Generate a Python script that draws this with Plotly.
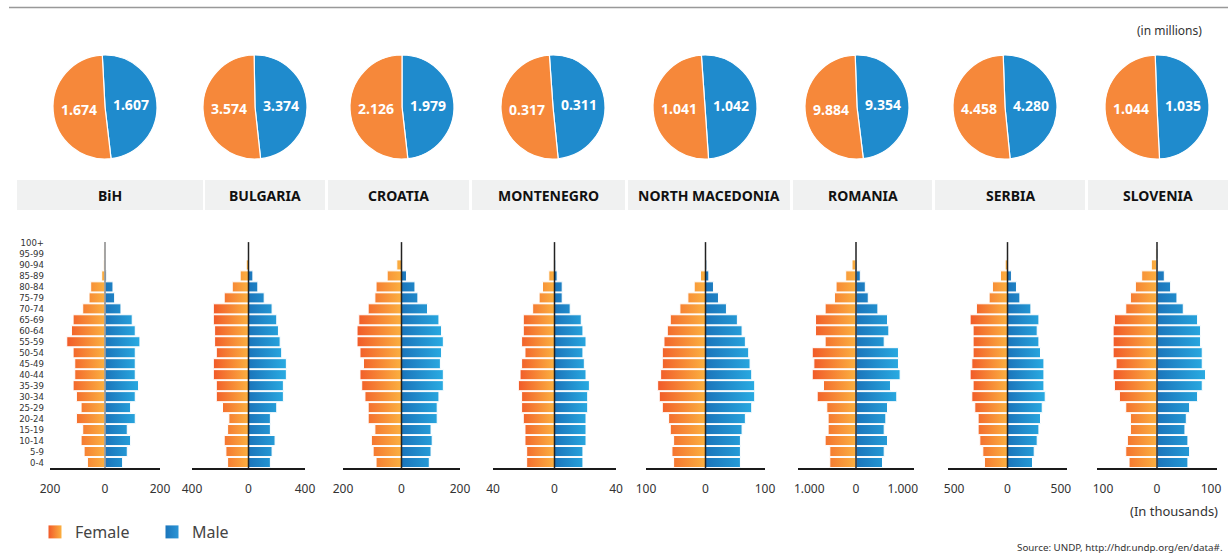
import plotly.graph_objects as go

W, H = 1228, 553

countries = ["BiH", "BULGARIA", "CROATIA", "MONTENEGRO", "NORTH MACEDONIA",
             "ROMANIA", "SERBIA", "SLOVENIA"]
age_groups = ["0-4", "5-9", "10-14", "15-19", "20-24", "25-29", "30-34", "35-39",
              "40-44", "45-49", "50-54", "55-59", "60-64", "65-69", "70-74",
              "75-79", "80-84", "85-89", "90-94", "95-99", "100+"]

# Total population, millions
female_total = [1.674, 3.574, 2.126, 0.317, 1.041, 9.884, 4.458, 1.044]
male_total = [1.607, 3.374, 1.979, 0.311, 1.042, 9.354, 4.280, 1.035]

# Population by five-year age group, thousands (youngest group first)
bih_female = [64, 76, 87, 81, 104, 87, 104, 116, 110, 110, 116, 139, 122, 116, 81, 58, 52, 12, 6, 4, 0]
bih_male = [64, 81, 93, 81, 110, 93, 110, 122, 110, 110, 110, 127, 110, 99, 58, 35, 29, 6, 1, 0.5, 0]
bulgaria_female = [148, 160, 172, 148, 139, 184, 228, 228, 249, 249, 228, 240, 240, 249, 249, 172, 115, 59, 16, 1, 0]
bulgaria_male = [155, 167, 188, 155, 155, 200, 247, 247, 268, 268, 235, 224, 212, 200, 167, 111, 66, 31, 7, 2, 0]
croatia_female = [87, 97, 103, 91, 114, 114, 125, 136, 142, 130, 142, 152, 152, 146, 114, 91, 87, 49, 16, 2, 0]
croatia_male = [95, 101, 105, 101, 122, 122, 128, 143, 143, 133, 137, 143, 137, 128, 89, 56, 46, 17, 2, 1, 0]
montenegro_female = [18.1, 18.1, 19.2, 19.2, 20.3, 21.4, 21.4, 23.5, 22.4, 21.4, 19.2, 21.4, 20.3, 20.3,
                     14.2, 10.0, 7.8, 3.7, 0.5, 0.1, 0]
montenegro_male = [18.5, 18.5, 20.5, 20.5, 20.5, 21.6, 21.6, 22.7, 20.5, 19.4, 18.5, 20.5, 18.5, 17.4,
                   10.2, 5.0, 5.0, 1.7, 0.8, 0, 0]
north_macedonia_female = [53.6, 56.4, 53.6, 59.2, 62.0, 72.6, 77.7, 80.4, 75.4, 72.6, 72.6, 69.8, 64.2, 59.2,
                          43.0, 29.6, 19.0, 8.4, 1.0, 0, 0]
north_macedonia_male = [58.7, 58.7, 58.7, 61.5, 67.0, 77.7, 82.7, 82.7, 77.7, 74.9, 72.6, 67.0, 61.5, 53.6,
                        35.2, 21.8, 13.4, 5.6, 2.2, 0, 0]
romania_female = [560, 560, 660, 596, 596, 624, 830, 695, 936, 901, 936, 660, 865, 865, 660, 461, 426, 220, 85, 10, 0]
romania_male = [567, 603, 674, 603, 638, 674, 872, 738, 943, 908, 908, 603, 702, 674, 468, 262, 199, 92, 20, 8, 0]
serbia_female = [216, 231, 259, 275, 275, 306, 334, 322, 350, 334, 322, 322, 322, 350, 291, 172, 141, 66, 22, 2, 0]
serbia_male = [234, 250, 278, 294, 309, 325, 353, 341, 341, 341, 309, 294, 278, 294, 219, 116, 84, 37, 9, 5, 0]
slovenia_female = [51.7, 57.8, 54.8, 49.2, 49.2, 57.8, 69.5, 78.8, 81.2, 75.7, 81.2, 81.2, 81.2, 78.8,
                   57.8, 49.2, 40.0, 28.3, 10.5, 2.5, 0]
slovenia_male = [57.2, 60.3, 57.2, 51.7, 54.2, 60.3, 75.1, 83.7, 89.8, 83.7, 83.7, 80.6, 80.6, 75.1,
                 48.6, 36.9, 25.2, 13.5, 1.8, 1.8, 0]

female_by_age = [bih_female, bulgaria_female, croatia_female, montenegro_female,
                 north_macedonia_female, romania_female, serbia_female, slovenia_female]
male_by_age = [bih_male, bulgaria_male, croatia_male, montenegro_male,
               north_macedonia_male, romania_male, serbia_male, slovenia_male]

# Axis tick value and its printed label for each pyramid
tick_values = [200, 400, 200, 40, 100, 1000, 500, 100]
tick_labels = ["200", "400", "200", "40", "100", "1.000", "500", "100"]

# ---- layout geometry (pixels) ----
axis_extent = [200, 400, 200, 40, 100, 1240, 557, 111]
pyr_px = [(50, 160), (192, 305), (343, 460), (493, 616), (646, 765),
          (798, 914), (948, 1067), (1097, 1217)]
pyr_top, pyr_bottom = 237.5, 468
pie_cx = [105, 255, 402, 553, 705, 857, 1005, 1157]
pie_cy, pie_r = 107, 52
pie_rotation = [-3, -1, 0, -4, -4, -2, -2, -2]
header_px = [(17, 203), (205, 325), (328, 469), (472, 625), (628, 790),
             (793, 932), (935, 1085), (1088, 1228)]
header_top, header_bottom = 180, 210

FEMALE_DARK, FEMALE_LIGHT = "#F15A29", "#FBB040"
MALE_DARK, MALE_LIGHT = "#1B75BB", "#29ABE2"
FONT = "Noto Sans, Open Sans, sans-serif"


def px_x(v):
    return v / W


def px_y(v):
    return 1 - v / H


def bar_outline(values, sign, half=0.46):
    """Closed rectangles, one per age group, from zero to the value."""
    xs, ys = [], []
    for i, v in enumerate(values):
        if v <= 0:
            continue
        x = sign * v
        xs += [0, x, x, 0, 0, None]
        ys += [i - half, i - half, i + half, i + half, i - half, None]
    return xs, ys


fig = go.Figure()
layout_axes = {}
shapes = [dict(type="line", xref="paper", yref="paper",
               x0=px_x(9), x1=1, y0=px_y(7.5), y1=px_y(7.5),
               line=dict(color="#999", width=1.5))]

for k in range(8):
    ax_id = "" if k == 0 else str(k + 1)
    xref, yref = "x" + ax_id, "y" + ax_id

    # female bars (left), male bars (right)
    for values, sign, cs, name in [
        (female_by_age[k], -1, [[0, FEMALE_DARK], [1, FEMALE_LIGHT]], "Female"),
        (male_by_age[k], 1, [[0, MALE_DARK], [1, MALE_LIGHT]], "Male"),
    ]:
        xs, ys = bar_outline(values, sign)
        fig.add_trace(go.Scatter(
            x=xs, y=ys, mode="lines", fill="toself",
            line=dict(color="white", width=1),
            fillgradient=dict(type="horizontal", colorscale=cs),
            name=name, showlegend=False, hoverinfo="skip",
            xaxis=xref, yaxis=yref,
        ))

    # vertical zero reference drawn over the bars
    shapes.append(dict(type="line", xref=xref, yref=yref + " domain",
                       x0=0, x1=0, y0=0, y1=0.98, layer="above",
                       line=dict(color="#888" if k == 0 else "#222", width=1.5)))

    x0, x1 = pyr_px[k]
    t = tick_values[k]
    layout_axes["xaxis" + ax_id] = dict(
        domain=[px_x(x0), px_x(x1)], anchor=yref, automargin=False,
        range=[-axis_extent[k], axis_extent[k]],
        tickvals=[-t, 0, t], ticktext=[tick_labels[k], "0", tick_labels[k]],
        ticks="", ticklabelstandoff=9,
        tickfont=dict(family=FONT, size=12, color="#333"),
        showgrid=False, showline=True, linecolor="#1a1a1a", linewidth=2,
        zeroline=False, layer="above traces", fixedrange=True,
    )
    layout_axes["yaxis" + ax_id] = dict(
        domain=[px_y(pyr_bottom), px_y(pyr_top)], anchor=xref, automargin=False,
        range=[-0.5, len(age_groups) - 0.5],
        tickvals=list(range(len(age_groups))), ticktext=age_groups,
        showticklabels=(k == 0), ticks="", ticklabelstandoff=5,
        tickfont=dict(family="Liberation Sans Narrow, DejaVu Sans Condensed, sans-serif",
                      size=9.5, color="#333"),
        showgrid=False, zeroline=False, showline=False, fixedrange=True,
    )

    # population totals by sex
    cx = pie_cx[k]
    fig.add_trace(go.Pie(
        values=[male_total[k], female_total[k]], labels=["Male", "Female"],
        sort=False, direction="clockwise", rotation=pie_rotation[k],
        marker=dict(colors=["#1F8BCD", "#F6883A"], line=dict(color="white", width=1.2)),
        textinfo="value", texttemplate="%{value:.3f}",
        textposition="inside", insidetextorientation="horizontal",
        textfont=dict(family=FONT, size=14, color="white", weight="bold"),
        domain=dict(x=[px_x(cx - pie_r), px_x(cx + pie_r)],
                    y=[px_y(pie_cy + pie_r), px_y(pie_cy - pie_r)]),
        showlegend=False, hoverinfo="label+value",
    ))

# legend entries
fig.add_trace(go.Scatter(
    x=[None], y=[None], mode="markers", name="Female", legend="legend",
    marker=dict(symbol="square", size=13, color=FEMALE_DARK,
                gradient=dict(type="horizontal", color=FEMALE_LIGHT)),
))
fig.add_trace(go.Scatter(
    x=[None], y=[None], mode="markers", name="Male", legend="legend2",
    marker=dict(symbol="square", size=13, color=MALE_DARK,
                gradient=dict(type="horizontal", color="#2B95D6")),
))

annotations = []
for k, (hx0, hx1) in enumerate(header_px):
    shapes.append(dict(type="rect", xref="paper", yref="paper", layer="below",
                       x0=px_x(hx0), x1=px_x(hx1),
                       y0=px_y(header_bottom), y1=px_y(header_top),
                       fillcolor="#F0F1F1", line=dict(width=0)))
    annotations.append(dict(text=countries[k], xref="paper", yref="paper",
                            x=px_x((hx0 + hx1) / 2), y=px_y((header_top + header_bottom) / 2),
                            showarrow=False, xanchor="center", yanchor="middle",
                            font=dict(family=FONT, size=14, color="#111", weight="bold")))

annotations += [
    dict(text="(in millions)", xref="paper", yref="paper", x=px_x(1204), y=px_y(30),
         xanchor="right", yanchor="middle", showarrow=False,
         font=dict(family=FONT, size=12, color="#333")),
    dict(text="(In thousands)", xref="paper", yref="paper", x=px_x(1220), y=px_y(511),
         xanchor="right", yanchor="middle", showarrow=False,
         font=dict(family=FONT, size=13, color="#333")),
    dict(text="Source: UNDP, http://hdr.undp.org/en/data#.", xref="paper", yref="paper",
         x=px_x(1225), y=px_y(547), xanchor="right", yanchor="middle", showarrow=False,
         font=dict(family=FONT, size=9.8, color="#333")),
]

legend_style = dict(orientation="h", yanchor="middle", xanchor="left",
                    font=dict(family=FONT, size=16, color="#444"),
                    bgcolor="rgba(0,0,0,0)", itemclick=False, itemdoubleclick=False)

fig.update_layout(
    width=W, height=H, margin=dict(l=0, r=0, t=0, b=0, autoexpand=False),
    paper_bgcolor="white", plot_bgcolor="white",
    shapes=shapes, annotations=annotations,
    legend=dict(x=px_x(35), y=px_y(532), **legend_style),
    legend2=dict(x=px_x(152), y=px_y(532), **legend_style),
    **layout_axes,
)

fig.write_html("out.html")
